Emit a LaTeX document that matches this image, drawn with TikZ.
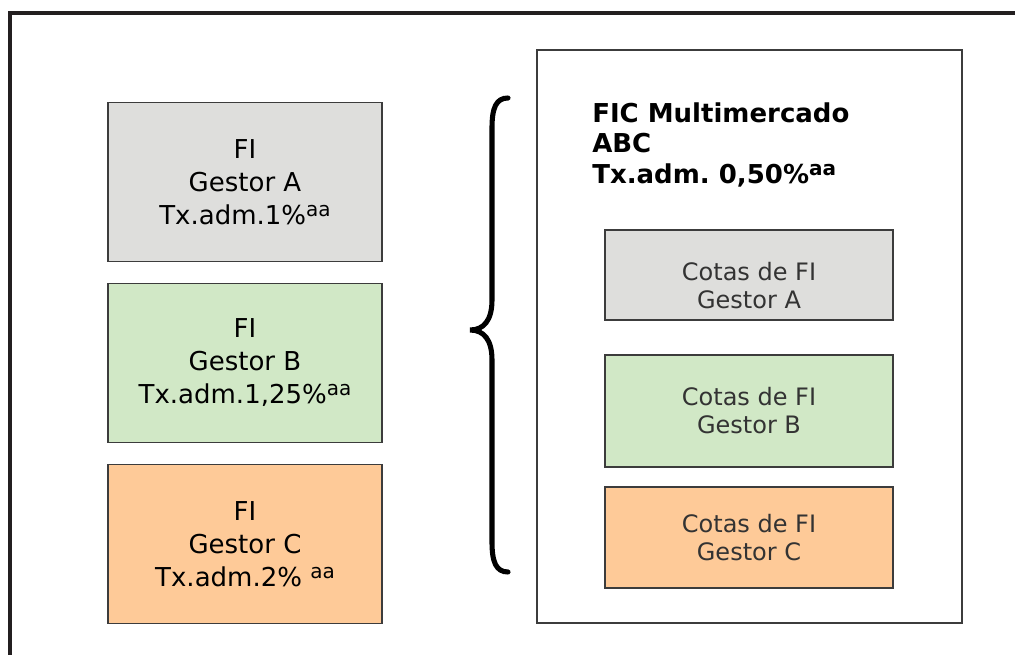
\documentclass[tikz,border=0pt]{standalone}
\usepackage{fontspec}
\setmainfont{DejaVu Sans}
\usepackage{xcolor}
\usepackage{tikz}
\usetikzlibrary{positioning}
\frenchspacing
\definecolor{fund-grey}{HTML}{DEDEDC}
\definecolor{fund-green}{HTML}{D1E8C6}
\definecolor{fund-orange}{HTML}{FECA98}
\definecolor{frame-ink}{HTML}{231F20}
\definecolor{box-ink}{HTML}{3C3C3C}

% "ao ano" mark after a rate
\newcommand{\peryear}{\raisebox{6pt}{\fontsize{15}{15}\selectfont aa}}

\tikzset{
    fundbox/.style={draw=box-ink, line width=1.2pt, inner sep=0pt, align=center,
                    minimum width=205.5pt, minimum height=119.25pt,
                    font=\fontsize{19.5}{24.75}\selectfont},
    cotabox/.style={draw=box-ink, line width=1.2pt, inner sep=0pt, align=center,
                    minimum width=216pt, text=black!80,
                    font=\fontsize{18}{21}\selectfont},
    cotatext/.style={inner sep=0pt, align=center, text=black!80,
                    font=\fontsize{18}{21}\selectfont},
}

\begin{document}
\begin{tikzpicture}[x=0.75pt, y=-0.75pt]

    \useasboundingbox (0,0) rectangle (1015,655);

    % frame
    \draw[frame-ink, line width=3pt] (10,655) -- (10,13) -- (1015,13);

    % individual funds
    \node[fundbox, fill=fund-grey] (fiA) at (245,182) {FI\\Gestor A\\Tx.adm.1\%\peryear};
    \node[fundbox, fill=fund-green] (fiB) at (245,363) {FI\\Gestor B\\Tx.adm.1,25\%\peryear};
    \node[fundbox, fill=fund-orange] (fiC) at (245,544) {FI\\Gestor C\\Tx.adm.2\% \peryear};

    % brace
    \coordinate (btop) at (508,98);
    \coordinate (btip) at (470,330);
    \coordinate (bbot) at (508,572);
    \draw[line width=3.8pt, line cap=round]
        (btop) .. controls (496,98) and (492,108) .. (492,128) -- (492,300)
        .. controls (492,320) and (484,330) .. (btip)
        .. controls (484,330) and (492,340) .. (492,360) -- (492,542)
        .. controls (492,562) and (496,572) .. (bbot);

    % fund of funds
    \node[draw=box-ink, line width=1.1pt, minimum width=318.75pt, minimum height=429.75pt,
          inner sep=0pt] (fic) at (749.5,336.5) {};
    \node[anchor=north west, inner sep=0pt, align=left,
          font=\bfseries\fontsize{19.5}{23}\selectfont] (title) at (592,102)
        {FIC Multimercado\\ABC\\Tx.adm. 0,50\%\peryear};

    % quotas held
    \node[cotabox, fill=fund-grey, minimum height=67.5pt] (cotaA) at (749,275) {};
    \node[cotatext] (cotaAtxt) at ([yshift=-8pt]cotaA.center) {Cotas de FI\\Gestor A};
    \node[cotabox, fill=fund-green, minimum height=84pt] (cotaB) at (749,411) {Cotas de FI\\Gestor B};
    \node[cotabox, fill=fund-orange, minimum height=75.75pt] (cotaC) at (749,537.5) {Cotas de FI\\Gestor C};

\end{tikzpicture}
\end{document}
